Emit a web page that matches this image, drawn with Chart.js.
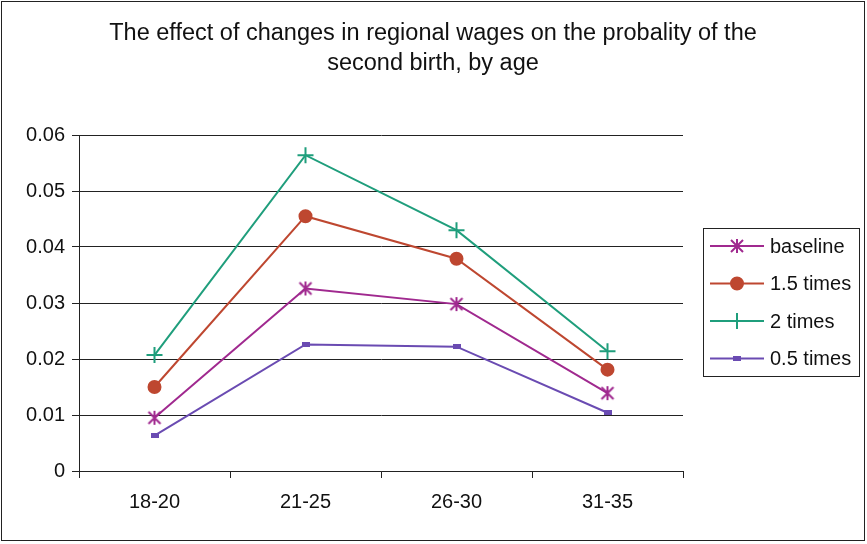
<!DOCTYPE html>
<html>
<head>
<meta charset="utf-8">
<script src="https://cdn.jsdelivr.net/npm/chart.js@4.4.1/dist/chart.umd.min.js"></script>
<style>
  html, body { margin: 0; padding: 0; background: #fff; }
  #wrap { width: 867px; height: 544px; position: relative; }
</style>
</head>
<body>
<div id="wrap"><canvas id="c" width="867" height="544"></canvas></div>
<script>
// Age groups and second-birth probabilities under each wage scenario
const ageGroups = ['18-20', '21-25', '26-30', '31-35'];
const baseline   = [0.0095, 0.0326, 0.0298, 0.0139];
const times1_5   = [0.0150, 0.0455, 0.0379, 0.0181];
const times2     = [0.0207, 0.0564, 0.0430, 0.0214];
const times0_5   = [0.0063, 0.0226, 0.0222, 0.0104];
const yTicks     = [0, 0.01, 0.02, 0.03, 0.04, 0.05, 0.06];
const titleLines = ['The effect of changes in regional wages on the probality of the',
                    'second birth, by age'];
const seriesNames = ['baseline', '1.5 times', '2 times', '0.5 times'];

const FONT = '"Liberation Sans", Arial, sans-serif';

// Marker images: asterisk (X with vertical bar) and short dash
function asteriskMarker(color) {
  const c = document.createElement('canvas');
  c.width = 16; c.height = 16;
  const g = c.getContext('2d');
  g.strokeStyle = color; g.lineWidth = 2;
  g.beginPath();
  g.moveTo(2, 2); g.lineTo(14, 14);
  g.moveTo(14, 2); g.lineTo(2, 14);
  g.moveTo(8, 1); g.lineTo(8, 15);
  g.stroke();
  return c;
}
function dashMarker(color) {
  const c = document.createElement('canvas');
  c.width = 8; c.height = 5;
  const g = c.getContext('2d');
  g.fillStyle = color;
  g.fillRect(0, 0, 8, 5);
  return c;
}

const colors = ['#A0298F', '#BE4730', '#1F9E7C', '#6A4BB2'];
const styles = [asteriskMarker(colors[0]), 'circle', 'cross', dashMarker(colors[3])];
const radii  = [7, 6, 8, 4];

const datasets = [baseline, times1_5, times2, times0_5].map((d, i) => ({
  label: seriesNames[i],
  data: d,
  borderColor: colors[i],
  backgroundColor: colors[i],
  borderWidth: 2,
  pointStyle: styles[i],
  pointRadius: radii[i],
  pointHoverRadius: radii[i],
  pointBorderWidth: 2,
  tension: 0
}));

const framePlugin = {
  id: 'frame',
  beforeDraw(chart) {
    const ctx = chart.ctx;
    ctx.save();
    ctx.fillStyle = '#fff';
    ctx.fillRect(0, 0, chart.width, chart.height);
    ctx.strokeStyle = '#222';
    ctx.lineWidth = 1;
    ctx.strokeRect(1.5, 1.5, 863, 539);
    ctx.restore();
  },
  afterDraw(chart) {
    const ctx = chart.ctx;
    ctx.save();
    // Title
    ctx.fillStyle = '#111';
    ctx.font = '23.5px ' + FONT;
    ctx.textAlign = 'center';
    ctx.textBaseline = 'middle';
    ctx.fillText(titleLines[0], 433, 34);
    ctx.fillText(titleLines[1], 433, 64);

    // Legend
    const bx = 703.5, by = 228.5, bw = 156, bh = 148;
    ctx.strokeStyle = '#222';
    ctx.lineWidth = 1;
    ctx.strokeRect(bx, by, bw, bh);
    ctx.font = '20px ' + FONT;
    ctx.textAlign = 'left';
    chart.data.datasets.forEach((ds, i) => {
      const y = 246 + i * 37.5;
      ctx.strokeStyle = ds.borderColor;
      ctx.lineWidth = 2;
      ctx.beginPath();
      ctx.moveTo(710, y); ctx.lineTo(764, y);
      ctx.stroke();
      ctx.fillStyle = ds.backgroundColor;
      ctx.strokeStyle = ds.borderColor;
      Chart.helpers.drawPoint(ctx, {
        pointStyle: ds.pointStyle, radius: ds.pointRadius, rotation: 0, borderWidth: 2
      }, 737, y);
      ctx.fillStyle = '#111';
      ctx.fillText(ds.label, 770, y + 1);
    });
    ctx.restore();
  }
};

new Chart(document.getElementById('c'), {
  type: 'line',
  data: { labels: ageGroups, datasets },
  plugins: [framePlugin],
  options: {
    responsive: false,
    animation: false,
    layout: { padding: { top: 135, right: 184, bottom: 0, left: 0 } },
    plugins: { legend: { display: false }, title: { display: false }, tooltip: { enabled: false } },
    scales: {
      x: {
        offset: true,
        afterFit(s) { s.height = 73; },
        grid: { offset: true, drawOnChartArea: false, drawTicks: true, tickLength: 7, color: '#222' },
        border: { display: true, color: '#222', width: 1 },
        ticks: { color: '#111', font: { family: FONT, size: 20 }, padding: 12 }
      },
      y: {
        min: 0, max: 0.06,
        afterFit(s) { s.width = 79; },
        afterBuildTicks(s) { s.ticks = yTicks.map(v => ({ value: v })); },
        grid: { color: '#222', lineWidth: 1, tickLength: 7, drawTicks: true },
        border: { display: true, color: '#222', width: 1 },
        ticks: {
          color: '#111', font: { family: FONT, size: 20 }, padding: 7,
          callback: v => String(Math.round(v * 100) / 100)
        }
      }
    }
  }
});
</script>
</body>
</html>
